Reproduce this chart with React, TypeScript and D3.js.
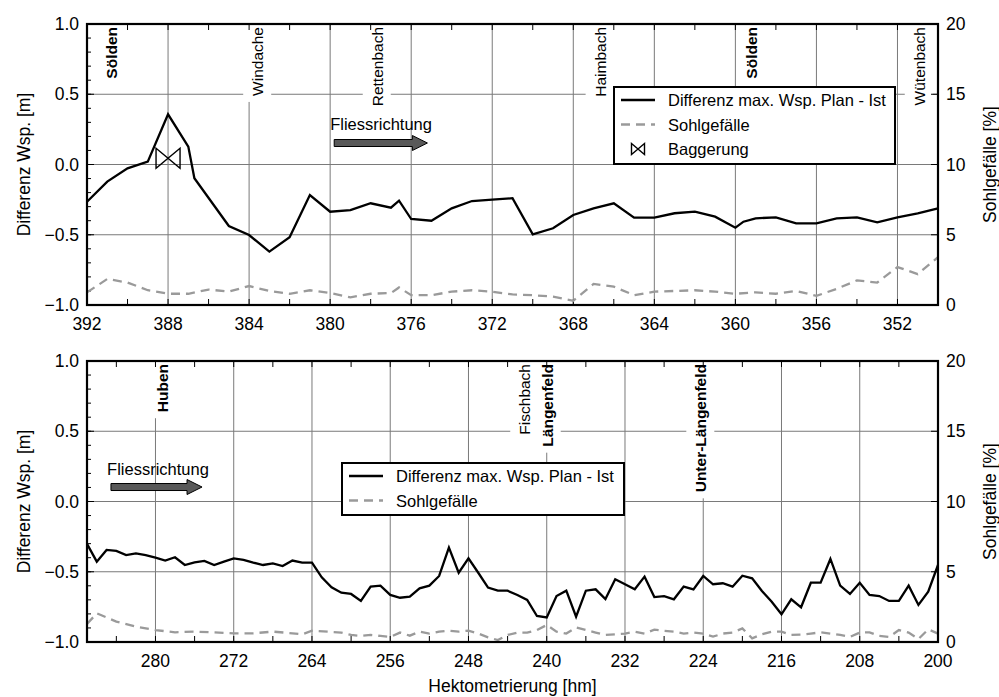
import React, { useEffect, useRef } from 'react';
import * as d3 from 'd3';

// ---- data ----
// upper panel: hm 392 .. 350
const upperDiff: [number, number][] = [
  [392, -0.265], [391, -0.122], [390, -0.027], [389, 0.02], [388, 0.357], [387, 0.127],
  [386.7, -0.098], [385, -0.438], [384, -0.502], [383, -0.62], [382, -0.518], [381, -0.217],
  [380, -0.336], [379, -0.324], [378, -0.276], [377, -0.307], [376.6, -0.257], [376, -0.388],
  [375, -0.4], [374, -0.312], [373, -0.26], [372, -0.25], [371, -0.24], [370, -0.497],
  [369, -0.454], [368, -0.359], [367, -0.312], [366, -0.276], [365, -0.378], [364, -0.378],
  [363, -0.347], [362, -0.336], [361, -0.371], [360, -0.45], [359.6, -0.407], [359, -0.383],
  [358, -0.376], [357, -0.419], [356, -0.419], [355, -0.383], [354, -0.376], [353, -0.411],
  [352, -0.376], [351, -0.347], [350, -0.312],
];
const upperSlope: [number, number][] = [
  [392, 0.9], [391, 1.85], [390, 1.6], [389, 1.05], [388, 0.8], [387, 0.8], [386, 1.1],
  [385, 0.95], [384, 1.35], [383, 1.0], [382, 0.8], [381, 1.05], [380, 0.85], [379, 0.55],
  [378, 0.8], [377, 0.85], [376.6, 1.25], [376, 0.7], [375, 0.7], [374, 0.95], [373, 1.05],
  [372, 0.95], [371, 0.75], [370, 0.7], [369, 0.6], [368, 0.3], [367, 1.5], [366, 1.3],
  [365, 0.7], [364, 0.95], [363, 1.0], [362, 1.05], [361, 0.95], [360, 0.8], [359, 0.9],
  [358, 0.8], [357, 1.0], [356, 0.65], [355, 1.15], [354, 1.75], [353, 1.6], [352, 2.7],
  [351, 2.2], [350, 3.4],
];
const baggerung: [number, number][] = [[388, 0.044]];

// lower panel: hm 287 .. 200
const lowerDiff: [number, number][] = [
  [287, -0.302], [286, -0.428], [285, -0.345], [284, -0.352], [283, -0.381], [282, -0.369],
  [281, -0.381], [280, -0.4], [279, -0.42], [278, -0.397], [277, -0.452], [276, -0.433],
  [275, -0.423], [274, -0.452], [273, -0.428], [272, -0.405], [271, -0.416], [270, -0.435],
  [269, -0.452], [268, -0.44], [267, -0.459], [266, -0.42], [265, -0.435], [264, -0.435],
  [263, -0.54], [262, -0.61], [261, -0.649], [260, -0.658], [259, -0.708], [258, -0.606],
  [257, -0.599], [256, -0.665], [255, -0.685], [254, -0.677], [253, -0.618], [252, -0.599],
  [251, -0.53], [250, -0.328], [249, -0.507], [248, -0.405], [247, -0.507], [246, -0.613],
  [245, -0.635], [244, -0.635], [243, -0.665], [242, -0.701], [241, -0.815], [240, -0.825],
  [239, -0.673], [238, -0.635], [237, -0.82], [236, -0.635], [235, -0.625], [234, -0.694],
  [233, -0.554], [232, -0.589], [231, -0.625], [230, -0.535], [229, -0.68], [228, -0.673],
  [227, -0.696], [226, -0.606], [225, -0.625], [224, -0.53], [223, -0.589], [222, -0.582],
  [221, -0.606], [220, -0.528], [219, -0.547], [218, -0.637], [217, -0.713], [216, -0.803],
  [215, -0.696], [214, -0.753], [213, -0.578], [212, -0.578], [211, -0.409], [210, -0.599],
  [209, -0.658], [208, -0.578], [207, -0.665], [206, -0.673], [205, -0.708], [204, -0.708],
  [203, -0.599], [202, -0.736], [201, -0.642], [200, -0.452],
];
const lowerSlope: [number, number][] = [
  [287, 1.28], [286, 2.04], [284, 1.45], [282, 1.1], [280, 0.85], [278, 0.69], [276, 0.74],
  [274, 0.69], [272, 0.62], [270, 0.62], [268, 0.74], [266, 0.62], [265, 0.55], [264, 0.8],
  [262, 0.72], [261, 0.67], [260, 0.5], [259, 0.43], [258, 0.5], [257, 0.43], [256, 0.36],
  [255, 0.67], [254, 0.45], [253, 0.74], [252, 0.6], [251, 0.74], [250, 0.81], [249, 0.74],
  [248, 0.81], [247, 0.6], [246, 0.33], [245, 0.14], [244, 0.5], [243, 0.67], [242, 0.67],
  [241, 0.85], [240, 1.21], [239, 0.74], [238, 0.6], [237, 1.04], [236, 0.85], [235, 0.67],
  [234, 0.5], [233, 0.55], [232, 0.6], [231, 0.74], [230, 0.6], [229, 0.88], [228, 0.8],
  [227, 0.74], [226, 0.6], [225, 0.67], [224, 0.6], [223, 0.38], [222, 0.6], [221, 0.67],
  [220, 0.97], [219, 0.26], [218, 0.55], [217, 0.74], [216, 0.74], [215, 0.5], [214, 0.52],
  [213, 0.6], [212, 0.69], [211, 0.6], [210, 0.5], [209, 0.36], [208, 0.67], [207, 0.69],
  [206, 0.43], [205, 0.36], [204, 0.85], [203, 0.67], [202, 0.21], [201, 0.9], [200, 0.6],
];

// place names along the river
const upperPlaces = [
  { name: 'Sölden', km: 390.8, bold: true },
  { name: 'Windache', km: 383.6, bold: false },
  { name: 'Rettenbach', km: 377.7, bold: false },
  { name: 'Haimbach', km: 366.7, bold: false },
  { name: 'Sölden', km: 359.25, bold: true },
  { name: 'Wütenbach', km: 350.95, bold: false },
];
const lowerPlaces = [
  { name: 'Huben', km: 279.3, bold: true },
  { name: 'Fischbach', km: 242.3, bold: false },
  { name: 'Längenfeld', km: 240.0, bold: true },
  { name: 'Unter-Längenfeld', km: 224.3, bold: true },
];

// axis ticks
const upperXTicks = [392, 388, 384, 380, 376, 372, 368, 364, 360, 356, 352];
const lowerXTicks = [280, 272, 264, 256, 248, 240, 232, 224, 216, 208, 200];
const leftTicks = [-1, -0.5, 0, 0.5, 1];
const rightTicks = [0, 5, 10, 15, 20];

const FONT = '"Liberation Sans", Arial, Helvetica, sans-serif';
const LEFT = 87;
const RIGHT = 938;
const GRAY = '#9a9a9a';

const bowtie = (cx: number, cy: number, w: number, h: number) =>
  `M${cx - w / 2},${cy - h / 2}L${cx},${cy}L${cx - w / 2},${cy + h / 2}Z` +
  `M${cx + w / 2},${cy - h / 2}L${cx},${cy}L${cx + w / 2},${cy + h / 2}Z`;

const fmt = (v: number) => (v < 0 ? '\u2212' : '') + Math.abs(v).toFixed(1);

function drawPanel(svg: any, p: any) {
  const x = d3.scaleLinear().domain(p.xDomain).range([LEFT, RIGHT]);
  const y = d3.scaleLinear().domain([-1, 1]).range([p.bottom, p.top]);
  const y2 = d3.scaleLinear().domain([0, 20]).range([p.bottom, p.top]);
  const g = svg.append('g');

  // grid
  g.selectAll('.vgrid').data(p.xTicks).join('line')
    .attr('x1', (d: number) => x(d)).attr('x2', (d: number) => x(d))
    .attr('y1', p.top).attr('y2', p.bottom)
    .attr('stroke', '#7a7a7a').attr('stroke-width', 1);
  g.selectAll('.hgrid').data([-0.5, 0, 0.5]).join('line')
    .attr('x1', LEFT).attr('x2', RIGHT)
    .attr('y1', (d: number) => y(d)).attr('y2', (d: number) => y(d))
    .attr('stroke', '#7a7a7a').attr('stroke-width', 1);

  // place labels with white boxes
  p.places.forEach((pl: any) => {
    const cx = x(pl.km);
    const t = g.append('text')
      .attr('transform', `translate(${cx + 6},${p.top + 3}) rotate(-90)`)
      .attr('text-anchor', 'end')
      .attr('font-family', FONT)
      .attr('font-size', 15.5)
      .attr('font-weight', pl.bold ? 'bold' : 'normal')
      .text(pl.name);
    const len = (t.node() as SVGTextElement).getComputedTextLength();
    g.append('rect')
      .attr('x', cx - 14).attr('y', p.top + 1)
      .attr('width', 28).attr('height', len + 8)
      .attr('fill', '#fff');
    t.raise();
  });

  // minor / major ticks (inward)
  const minorX = d3.range(p.xDomain[1], p.xDomain[0] + 0.001, p.minorStep);
  [p.top, p.bottom].forEach((yy: number, i: number) => {
    const dir = i === 0 ? 1 : -1;
    g.selectAll(null).data(minorX).join('line')
      .attr('x1', (d: number) => x(d)).attr('x2', (d: number) => x(d))
      .attr('y1', yy).attr('y2', yy + dir * 6)
      .attr('stroke', '#000').attr('stroke-width', 1);
  });
  g.selectAll(null).data(d3.range(-1, 1.001, 0.1)).join('line')
    .attr('x1', LEFT).attr('x2', LEFT + 4)
    .attr('y1', (d: number) => y(d)).attr('y2', (d: number) => y(d))
    .attr('stroke', '#000').attr('stroke-width', 1);
  g.selectAll(null).data(leftTicks).join('line')
    .attr('x1', LEFT).attr('x2', LEFT + 7)
    .attr('y1', (d: number) => y(d)).attr('y2', (d: number) => y(d))
    .attr('stroke', '#000').attr('stroke-width', 1);
  g.selectAll(null).data(rightTicks).join('line')
    .attr('x1', RIGHT - 7).attr('x2', RIGHT)
    .attr('y1', (d: number) => y2(d)).attr('y2', (d: number) => y2(d))
    .attr('stroke', '#000').attr('stroke-width', 1);

  // data lines
  const slopeLine = d3.line<[number, number]>().x(d => x(d[0])).y(d => y2(d[1]));
  const diffLine = d3.line<[number, number]>().x(d => x(d[0])).y(d => y(d[1]));
  g.append('path').attr('d', slopeLine(p.slope))
    .attr('fill', 'none').attr('stroke', GRAY).attr('stroke-width', 2.3)
    .attr('stroke-dasharray', '9,6');
  g.append('path').attr('d', diffLine(p.diff))
    .attr('fill', 'none').attr('stroke', '#000').attr('stroke-width', 2.3)
    .attr('stroke-linejoin', 'miter');

  if (p.bagger) {
    p.bagger.forEach((b: [number, number]) => {
      g.append('path').attr('d', bowtie(x(b[0]), y(b[1]), 24, 20))
        .attr('fill', 'none').attr('stroke', '#000').attr('stroke-width', 1.4);
    });
  }

  // Fliessrichtung
  const a = p.arrow;
  const ax0 = x(a.from), ax1 = x(a.to), ay = y(a.y);
  g.append('text').attr('x', x(a.textKm)).attr('y', y(a.textY))
    .attr('font-family', FONT).attr('font-size', 16.5).text('Fliessrichtung');
  g.append('path')
    .attr('d', `M${ax0},${ay - 3.5}L${ax1 - 15},${ay - 3.5}L${ax1 - 15},${ay - 7.5}L${ax1},${ay}` +
      `L${ax1 - 15},${ay + 7.5}L${ax1 - 15},${ay + 3.5}L${ax0},${ay + 3.5}Z`)
    .attr('fill', '#595959').attr('stroke', '#000').attr('stroke-width', 1);

  // legend
  const lg = p.legend;
  const lgG = g.append('g').attr('transform', `translate(${lg.x},${lg.y})`);
  lgG.append('rect').attr('width', lg.w).attr('height', lg.h)
    .attr('fill', '#fff').attr('stroke', '#000').attr('stroke-width', 2);
  lg.items.forEach((it: string, i: number) => {
    const ry = 13 + i * 24.5;
    if (i === 0) {
      lgG.append('line').attr('x1', 7).attr('x2', 41).attr('y1', ry).attr('y2', ry)
        .attr('stroke', '#000').attr('stroke-width', 2.3);
    } else if (i === 1) {
      lgG.append('line').attr('x1', 7).attr('x2', 41).attr('y1', ry).attr('y2', ry)
        .attr('stroke', GRAY).attr('stroke-width', 2.3).attr('stroke-dasharray', '9,6');
    } else {
      lgG.append('path').attr('d', bowtie(24, ry, 13, 11))
        .attr('fill', 'none').attr('stroke', '#000').attr('stroke-width', 1.4);
    }
    lgG.append('text').attr('x', 54).attr('y', ry + 6)
      .attr('font-family', FONT).attr('font-size', 16.5).text(it);
  });

  // frame
  g.append('rect').attr('x', LEFT).attr('y', p.top)
    .attr('width', RIGHT - LEFT).attr('height', p.bottom - p.top)
    .attr('fill', 'none').attr('stroke', '#000').attr('stroke-width', 2.2);

  // tick labels
  g.selectAll(null).data(leftTicks).join('text')
    .attr('x', LEFT - 8).attr('y', (d: number) => y(d) + 6)
    .attr('text-anchor', 'end').attr('font-family', FONT).attr('font-size', 17.5)
    .text((d: number) => fmt(d));
  g.selectAll(null).data(rightTicks).join('text')
    .attr('x', RIGHT + 8).attr('y', (d: number) => y2(d) + 6)
    .attr('font-family', FONT).attr('font-size', 17.5)
    .text((d: number) => String(d));
  g.selectAll(null).data(p.xTicks).join('text')
    .attr('x', (d: number) => x(d)).attr('y', p.bottom + 25)
    .attr('text-anchor', 'middle').attr('font-family', FONT).attr('font-size', 17.5)
    .text((d: number) => String(d));

  // axis titles
  const mid = (p.top + p.bottom) / 2;
  g.append('text').attr('transform', `translate(30,${mid}) rotate(-90)`)
    .attr('text-anchor', 'middle').attr('font-family', FONT).attr('font-size', 17.5)
    .text('Differenz Wsp. [m]');
  g.append('text').attr('transform', `translate(996,${mid}) rotate(-90)`)
    .attr('text-anchor', 'middle').attr('font-family', FONT).attr('font-size', 17.5)
    .text('Sohlgefälle [%]');
}

const App = () => {
  const svgRef = useRef<SVGSVGElement | null>(null);

  useEffect(() => {
    if (!svgRef.current) return;
    const svg = d3.select(svgRef.current);
    svg.selectAll('*').remove();

    drawPanel(svg, {
      xDomain: [392, 350], top: 24, bottom: 305,
      xTicks: upperXTicks, minorStep: 2,
      diff: upperDiff, slope: upperSlope, bagger: baggerung,
      places: upperPlaces,
      arrow: { from: 379.8, to: 375.2, y: 0.153, textKm: 380.0, textY: 0.246 },
      legend: {
        x: 614, y: 87, w: 281, h: 77,
        items: ['Differenz max. Wsp. Plan - Ist', 'Sohlgefälle', 'Baggerung'],
      },
    });
    drawPanel(svg, {
      xDomain: [287, 200], top: 361, bottom: 642,
      xTicks: lowerXTicks, minorStep: 4,
      diff: lowerDiff, slope: lowerSlope, bagger: null,
      places: lowerPlaces,
      arrow: { from: 284.55, to: 275.24, y: 0.103, textKm: 284.95, textY: 0.192 },
      legend: {
        x: 342, y: 463, w: 282, h: 52,
        items: ['Differenz max. Wsp. Plan - Ist', 'Sohlgefälle'],
      },
    });

    svg.append('text').attr('x', (LEFT + RIGHT) / 2).attr('y', 692)
      .attr('text-anchor', 'middle').attr('font-family', FONT).attr('font-size', 17.5)
      .text('Hektometrierung [hm]');
  }, []);

  return (
    <div style={{ position: 'absolute', left: 0, top: 0 }}>
      <svg ref={svgRef} width={999} height={697} style={{ display: 'block', background: '#fff' }} />
    </div>
  );
};

export default App;
